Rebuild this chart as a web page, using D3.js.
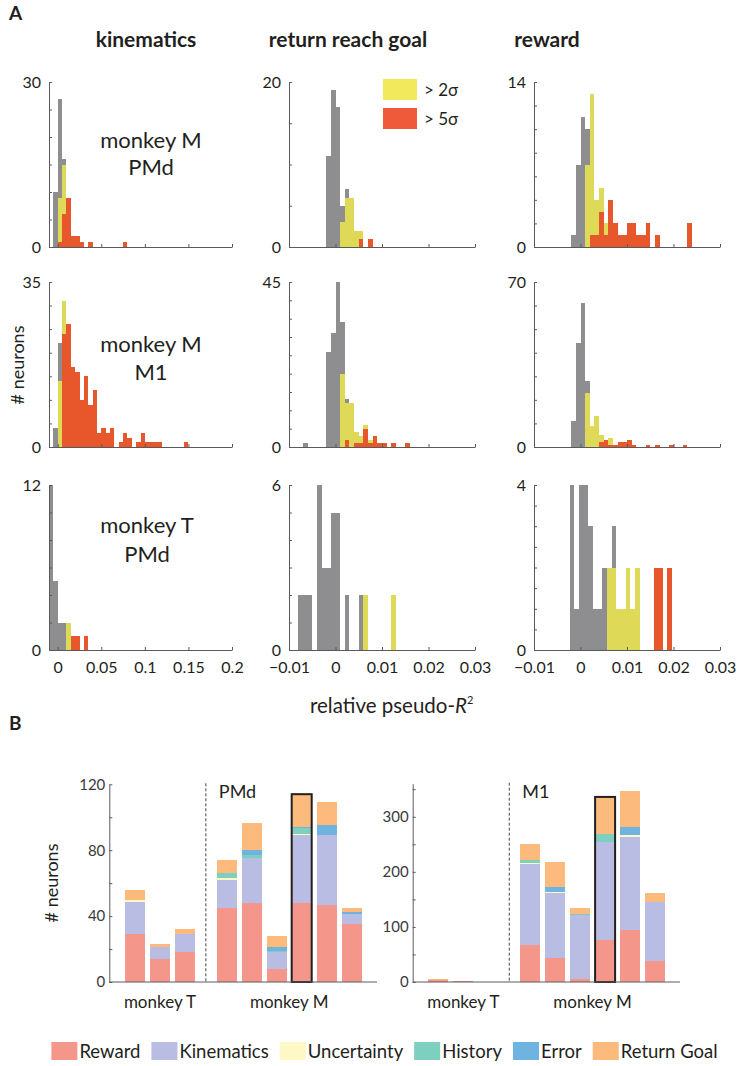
<!DOCTYPE html>
<html><head><meta charset="utf-8">
<script src="https://cdn.jsdelivr.net/npm/d3@7"></script>
<style>
body{margin:0;background:#fff;}
svg{display:block;font-family:Lato,"Open Sans",sans-serif;}
</style></head><body>
<svg id="c" width="739" height="1066"></svg>
<script>
// ================= Panel A: histograms (counts per bin) =================
const colTitles = ["kinematics", "return reach goal", "reward"];
const rowLabels = [["monkey M", "PMd"], ["monkey M", "M1"], ["monkey T", "PMd"]];
const kinTicks = [0, 0.05, 0.1, 0.15, 0.2];
const fineTicks = [-0.01, 0, 0.01, 0.02, 0.03];
const histYMax = [30, 20, 14, 35, 45, 70, 12, 6, 4];
const histYStep = [5, 5, 2, 5, 5, 10, 2, 1, 0.5];
const histBinStart = [-0.005, -0.002, -0.002, -0.005, -0.01, -0.002, -0.01, -0.01, -0.0023];
const histBinWidth = [0.005, 0.001, 0.001, 0.005, 0.001, 0.001, 0.005, 0.001, 0.001];

// monkey M PMd
const kinM_PMd_all = [10,27,16,9,2,2,1,0,1,0,0,0,0,0,0,0,1];
const kinM_PMd_2s  = [0,9,15,9,2,2,1,0,1,0,0,0,0,0,0,0,1];
const kinM_PMd_5s  = [0,1,6,9,2,2,1,0,1,0,0,0,0,0,0,0,1];
const goalM_PMd_all = [11,19,17,5,7,6,2,2,0,1];
const goalM_PMd_2s  = [0,0,0,3,6,6,2,2,0,1];
const goalM_PMd_5s  = [0,0,0,0,0,0,0,1,0,1];
const rewM_PMd_all = [1,7,11,10,13,4,5,2,4,2,1,1,2,2,1,1,2,0,1,0,0,0,0,0,0,2];
const rewM_PMd_2s  = [0,0,0,7,13,4,5,2,4,2,1,1,2,2,1,1,2,0,1,0,0,0,0,0,0,2];
const rewM_PMd_5s  = [0,0,0,0,1,1,3,1,4,2,1,1,2,2,1,1,2,0,1,0,0,0,0,0,0,2];
// monkey M M1
const kinM_M1_all = [4,22,31,26,17,16,10,15,9,12,3,4,3,4,0,1,3,2,0,1,3,1,1,1,1,0,0,0,0,0,1];
const kinM_M1_2s  = [0,14,31,26,17,16,10,15,9,12,3,4,3,4,0,1,3,2,0,1,3,1,1,1,1,0,0,0,0,0,1];
const kinM_M1_5s  = [0,0,24,26,17,16,10,15,9,12,3,4,3,4,0,1,3,2,0,1,3,1,1,1,1,0,0,0,0,0,1];
const goalM_M1_all = [0,0,0,1,0,0,0,0,26,31,45,34,13,12,4,3,6,2,3,1,1,0,1,0,0,1];
const goalM_M1_2s  = [0,0,0,0,0,0,0,0,0,0,0,20,12,12,4,3,6,2,3,1,1,0,1,0,0,1];
const goalM_M1_5s  = [0,0,0,0,0,0,0,0,0,0,0,0,2,0,1,1,5,1,3,1,1,0,1,0,0,1];
const rewM_M1_all = [11,44,61,28,9,13,5,3,4,1,2,2,3,1,0,0,1,0,1,0,0,1,0,0,1];
const rewM_M1_2s  = [0,0,0,23,9,13,5,3,4,1,2,2,3,1,0,0,1,0,1,0,0,1,0,0,1];
const rewM_M1_5s  = [0,0,0,0,0,0,2,3,1,1,2,2,3,1,0,0,1,0,1,0,0,1,0,0,1];
// monkey T PMd
const kinT_PMd_all = [12,5,2,2,2,1,1,0,1];
const kinT_PMd_2s  = [0,0,0,0,2,1,1,0,1];
const kinT_PMd_5s  = [0,0,0,0,0,1,1,0,1];
const goalT_PMd_all = [0,0,2,2,2,0,6,3,3,5,5,0,2,0,0,2,2,0,0,0,0,0,2];
const goalT_PMd_2s  = [0,0,0,0,0,0,0,0,0,0,0,0,0,0,0,0,2,0,0,0,0,0,2];
const goalT_PMd_5s  = [0,0,0,0,0,0,0,0,0,0,0,0,0,0,0,0,0,0,0,0,0,0,0];
const rewT_PMd_all = [4,1,4,4,3,1,1,2,2,3,1,1,2,1,2,0,0,0,2,2,0,2];
const rewT_PMd_2s  = [0,0,0,0,0,0,0,0,2,2,1,1,2,1,2,0,0,0,2,2,0,2];
const rewT_PMd_5s  = [0,0,0,0,0,0,0,0,0,0,0,0,0,0,0,0,0,0,2,2,0,2];

// ================= Panel B: stacked bars =================
const barGroups = ["monkey T", "monkey M"];
const barGroupOf = [0,0,0,1,1,1,1,1,1];
const highlightBar = 6;
const categories = ["Reward", "Kinematics", "Uncertainty", "History", "Error", "Return Goal"];
const pmdReward      = [29, 14, 18, 45, 48, 8, 48, 47, 35];
const pmdKinematics  = [19.5, 7, 11, 17, 27, 10, 41, 42, 6.5];
const pmdUncertainty = [1, 0.5, 0, 1, 0.3, 0, 1, 0.5, 0];
const pmdHistory     = [0, 0, 0, 3, 2, 1, 3.5, 0, 0];
const pmdError       = [0, 0, 0, 0, 3, 2, 0.5, 5.5, 1];
const pmdReturnGoal  = [6.5, 1.5, 3, 8, 16, 7, 20, 14, 2.5];
const m1Reward      = [3, 1, 0, 67, 44, 6, 76, 95, 39];
const m1Kinematics  = [0, 0, 0, 148, 118, 115, 179, 169, 106];
const m1Uncertainty = [0, 0, 0, 1, 2, 0, 0, 2, 1];
const m1History     = [0, 0, 0, 5, 0, 2, 14, 0, 0];
const m1Error       = [0, 0, 0, 1, 8, 0, 0, 16, 0];
const m1ReturnGoal  = [2, 1, 0, 29, 46, 11.5, 67, 65, 16];
const pmdTicks = [0, 20, 40, 60, 80, 100, 120];
const pmdTickLabels = [0, 40, 80, 120];
const m1Ticks = [0, 50, 100, 150, 200, 250, 300, 350];
const m1TickLabels = [0, 100, 200, 300];

// ================= styles =================
const GRAY = "#8e8e91", YEL = "#dfd958", RED = "#e8572c";
const catColors = ["#f5968b", "#b9bde3", "#fef7c6", "#7dcfbf", "#6fb3e1", "#fcbb7d"];
const AX = "#5a5a5a", TXT = "#231f20";

const svg = d3.select("#c");

svg.append("text").attr("x", 9).attr("y", 20).attr("font-size", 19).attr("font-weight", "bold").attr("fill", TXT).text("A");
svg.append("text").attr("x", 9).attr("y", 730).attr("font-size", 19).attr("font-weight", "bold").attr("fill", TXT).text("B");

const colX = [[49, 232], [289, 475], [534, 720]];
const rowY = [[82, 247], [282, 447], [485, 650]];
const colDom = [[-0.01, 0.2], [-0.01, 0.03], [-0.01, 0.03]];
const titleX = [146, 348, 547];
const histAll = [kinM_PMd_all, goalM_PMd_all, rewM_PMd_all, kinM_M1_all, goalM_M1_all, rewM_M1_all, kinT_PMd_all, goalT_PMd_all, rewT_PMd_all];
const hist2s = [kinM_PMd_2s, goalM_PMd_2s, rewM_PMd_2s, kinM_M1_2s, goalM_M1_2s, rewM_M1_2s, kinT_PMd_2s, goalT_PMd_2s, rewT_PMd_2s];
const hist5s = [kinM_PMd_5s, goalM_PMd_5s, rewM_PMd_5s, kinM_M1_5s, goalM_M1_5s, rewM_M1_5s, kinT_PMd_5s, goalT_PMd_5s, rewT_PMd_5s];

colTitles.forEach((t, c) => {
  svg.append("text").attr("x", titleX[c]).attr("y", 47)
    .attr("text-anchor", "middle").attr("font-size", 21).attr("font-weight", "bold").attr("fill", TXT).text(t);
});

function styleAxis(g) {
  g.selectAll(".domain").attr("stroke", AX).attr("stroke-width", 1);
  g.selectAll(".tick line").attr("stroke", AX).attr("stroke-width", 1);
  g.selectAll(".tick text").attr("fill", TXT).attr("font-family", "Lato,'Open Sans',sans-serif");
}

for (let p = 0; p < 9; p++) {
  const r = Math.floor(p / 3), c = p % 3;
  const x = d3.scaleLinear().domain(colDom[c]).range(colX[c]);
  const y = d3.scaleLinear().domain([0, histYMax[p]]).range([rowY[r][1], rowY[r][0]]);
  const g = svg.append("g");
  const s0 = histBinStart[p], w = histBinWidth[p];
  [[histAll[p], GRAY], [hist2s[p], YEL], [hist5s[p], RED]].forEach(([arr, col]) => {
    g.append("g").selectAll("rect")
      .data(arr.map((v, i) => ({ v, i })).filter(d => d.v > 0))
      .join("rect")
      .attr("x", d => x(s0 + d.i * w))
      .attr("width", d => x(s0 + (d.i + 1) * w) - x(s0 + d.i * w))
      .attr("y", d => y(d.v))
      .attr("height", d => y(0) - y(d.v))
      .attr("fill", col).attr("shape-rendering", "crispEdges");
  });
  const yt = d3.range(0, histYMax[p] + histYStep[p] / 2, histYStep[p]);
  const ya = svg.append("g").attr("transform", `translate(${colX[c][0]},0)`)
    .call(d3.axisLeft(y).tickValues(yt).tickSize(-3).tickSizeOuter(0).tickPadding(8)
      .tickFormat(d => (d === 0 || Math.abs(d - histYMax[p]) < 1e-9) ? d3.format("~g")(d) : ""))
    .attr("font-size", 16);
  styleAxis(ya);
  ya.selectAll(".tick text").filter(function () { return this.textContent === ""; }).remove();
  const xa = svg.append("g").attr("transform", `translate(0,${rowY[r][1]})`)
    .call(d3.axisBottom(x).tickValues(c === 0 ? kinTicks : fineTicks).tickSize(-3).tickSizeOuter(0).tickPadding(12)
      .tickFormat(r === 2 ? d3.format("~g") : () => ""))
    .attr("font-size", 16);
  styleAxis(xa);
  xa.selectAll(".tick text").filter(function () { return this.textContent === ""; }).remove();
}

const rowLabelBase = [[148, 175], [352, 380], [533, 562]];
rowLabels.forEach((lab, r) => {
  const cx = r === 2 ? 147 : 151;
  lab.forEach((t, i) => {
    svg.append("text").attr("x", cx).attr("y", rowLabelBase[r][i]).attr("text-anchor", "middle")
      .attr("font-size", 22).attr("fill", TXT).text(t);
  });
});

[["> 2σ", "#f2ea5c"], ["> 5σ", "#ee5a3a"]].forEach(([t, col], i) => {
  svg.append("rect").attr("x", 383).attr("y", 79 + i * 29).attr("width", 34).attr("height", 21).attr("fill", col);
  svg.append("text").attr("x", 424).attr("y", 96 + i * 29).attr("font-size", 17).attr("fill", TXT).text(t);
});

svg.append("text").attr("transform", "translate(24,365) rotate(-90)").attr("text-anchor", "middle")
  .attr("font-size", 18).attr("fill", TXT).text("# neurons");

const xl = svg.append("text").attr("x", 310).attr("y", 713).attr("font-size", 20.5).attr("fill", TXT);
xl.append("tspan").text("relative pseudo-");
xl.append("tspan").attr("font-style", "italic").text("R");
xl.append("tspan").attr("font-size", 11).attr("dy", -9).text("2");

// ================= Panel B drawing =================
const pmdSeries = [pmdReward, pmdKinematics, pmdUncertainty, pmdHistory, pmdError, pmdReturnGoal];
const m1Series = [m1Reward, m1Kinematics, m1Uncertainty, m1History, m1Error, m1ReturnGoal];
const plotsB = [
  { x0: 109.3, x1: 377, ymax: 120, top: 784.3, series: pmdSeries, ticks: pmdTicks, labels: pmdTickLabels, title: "PMd" },
  { x0: 412.7, x1: 680, ymax: 360, top: 783.7, series: m1Series, ticks: m1Ticks, labels: m1TickLabels, title: "M1" }
];
const yB0 = 982;
const padSlots = 0.628, gapSlots = 0.668, barFrac = 0.8;
const slotOf = i => padSlots + i + (barGroupOf[i] === 1 ? gapSlots : 0);

plotsB.forEach(pl => {
  const nSlots = (pl.x1 - pl.x0) / 25;
  const x = d3.scaleLinear().domain([0, nSlots]).range([pl.x0, pl.x1]);
  const ys = d3.scaleLinear().domain([0, pl.ymax]).range([yB0, pl.top]);
  const rows = pl.series[0].map((_, i) => {
    const o = { i };
    categories.forEach((k, j) => o[k] = pl.series[j][i]);
    return o;
  });
  const stacked = d3.stack().keys(categories)(rows);
  const g = svg.append("g");
  stacked.forEach((layer, j) => {
    g.append("g").selectAll("rect").data(layer.filter(d => d[1] - d[0] > 0)).join("rect")
      .attr("x", d => x(slotOf(d.data.i)))
      .attr("width", d => x(slotOf(d.data.i) + barFrac) - x(slotOf(d.data.i)))
      .attr("y", d => ys(d[1]))
      .attr("height", d => ys(d[0]) - ys(d[1]))
      .attr("fill", catColors[j]).attr("shape-rendering", "crispEdges");
  });
  const tot = d3.sum(pl.series, s => s[highlightBar]);
  g.append("rect").attr("x", x(slotOf(highlightBar))).attr("y", ys(tot))
    .attr("width", x(slotOf(highlightBar) + barFrac) - x(slotOf(highlightBar)))
    .attr("height", ys(0) - ys(tot)).attr("fill", "none").attr("stroke", TXT).attr("stroke-width", 2);
  const sep = (slotOf(2) + barFrac + slotOf(3)) / 2;
  svg.append("line").attr("x1", x(sep)).attr("x2", x(sep)).attr("y1", pl.top - 1).attr("y2", yB0)
    .attr("stroke", "#444").attr("stroke-dasharray", "3,2").attr("stroke-width", 1);
  const ya = svg.append("g").attr("transform", `translate(${pl.x0},0)`)
    .call(d3.axisLeft(ys).tickValues(pl.ticks).tickSize(-3).tickSizeOuter(0).tickPadding(4)
      .tickFormat(d => pl.labels.includes(d) ? d : ""))
    .attr("font-size", 15);
  styleAxis(ya);
  ya.selectAll(".tick text").attr("fill", "#3a3a3a").filter(function () { return this.textContent === ""; }).remove();
  svg.append("line").attr("x1", pl.x0).attr("x2", pl.x1).attr("y1", yB0).attr("y2", yB0).attr("stroke", AX);
  svg.append("text").attr("x", x(sep) + 13).attr("y", 798).attr("font-size", 18).attr("fill", TXT).text(pl.title);
  barGroups.forEach((gname, gi) => {
    const idx = barGroupOf.map((v, i) => v === gi ? i : -1).filter(i => i >= 0);
    const cx = (x(slotOf(idx[0])) + x(slotOf(idx[idx.length - 1]) + barFrac)) / 2;
    svg.append("text").attr("x", cx).attr("y", 1008).attr("text-anchor", "middle").attr("font-size", 17).attr("fill", TXT).text(gname);
  });
});

svg.append("text").attr("transform", "translate(58,883) rotate(-90)").attr("text-anchor", "middle")
  .attr("font-size", 18).attr("fill", TXT).text("# neurons");

const lg = svg.append("g");
let lx = 0;
categories.forEach((k, j) => {
  const it = lg.append("g").attr("transform", `translate(${lx},0)`);
  it.append("rect").attr("x", 0).attr("y", -9).attr("width", 26).attr("height", 18).attr("fill", catColors[j]);
  const t = it.append("text").attr("x", 28).attr("y", 6.5).attr("font-size", 18.5).attr("fill", TXT).text(k);
  lx += 28 + t.node().getComputedTextLength() + 11;
});
lx -= 11;
lg.attr("transform", `translate(${(43 + 726) / 2 - lx / 2},1051)`);
</script>
</body></html>
